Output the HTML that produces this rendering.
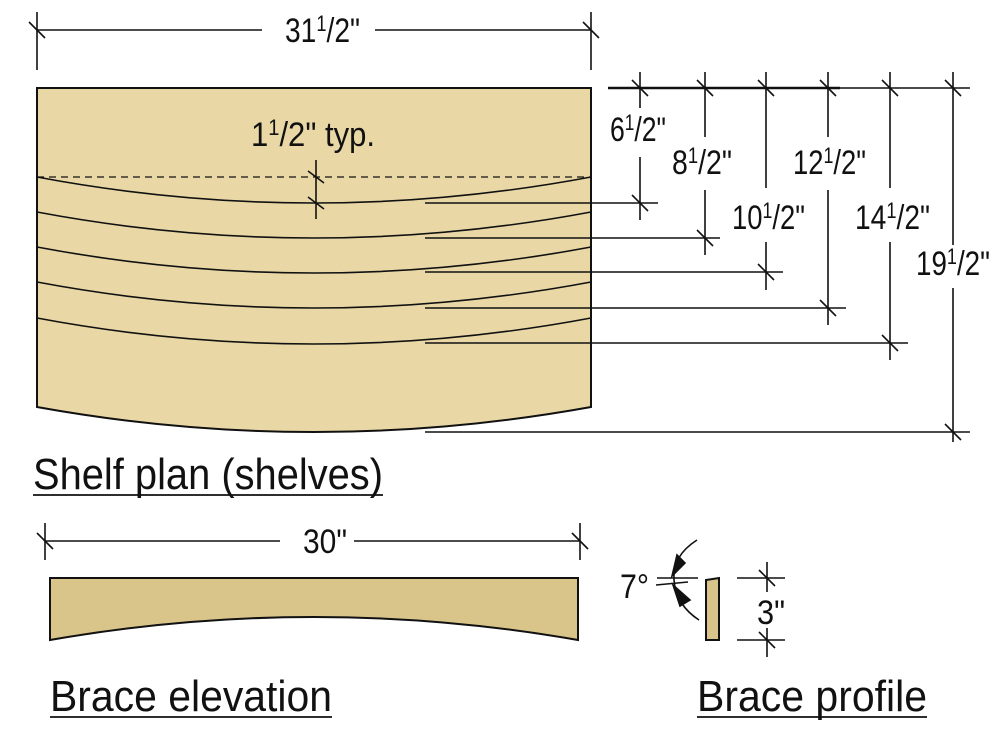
<!DOCTYPE html>
<html><head><meta charset="utf-8"><style>
html,body{margin:0;padding:0;background:#fff;}
svg{display:block;}
text{font-family:"Liberation Sans",sans-serif;fill:#111;}
</style></head><body>
<svg width="992" height="753" viewBox="0 0 992 753" xmlns="http://www.w3.org/2000/svg">
<g stroke="#111" stroke-width="1.6" fill="none">
<path d="M37,88 L591,88 L591,407 Q314,457 37,407 Z" fill="#e9d8a6" stroke-width="2"/>
<line x1="37" y1="177" x2="591" y2="177" stroke-dasharray="7,5" stroke-width="1.3"/>
<path d="M37,177 Q314,229 591,177"/>
<path d="M37,212 Q314,264 591,212"/>
<path d="M37,247 Q314,299 591,247"/>
<path d="M37,282 Q314,334 591,282"/>
<path d="M37,318 Q314,370 591,318"/>
<line x1="316" y1="160" x2="316" y2="219"/>
<line x1="308" y1="171" x2="324" y2="183"/>
<line x1="308" y1="197" x2="324" y2="209"/>
<line x1="37" y1="12" x2="37" y2="70"/>
<line x1="591" y1="12" x2="591" y2="70"/>
<line x1="37" y1="30" x2="262" y2="30"/>
<line x1="375" y1="30" x2="591" y2="30"/>
<line x1="29" y1="22" x2="45" y2="38"/>
<line x1="583" y1="22" x2="599" y2="38"/>
<line x1="608" y1="88" x2="840" y2="88" stroke-width="2.4"/>
<line x1="840" y1="88" x2="970" y2="88"/>
<line x1="425" y1="203" x2="658" y2="203"/>
<line x1="425" y1="238" x2="720" y2="238"/>
<line x1="425" y1="272" x2="783" y2="272"/>
<line x1="425" y1="308" x2="846" y2="308"/>
<line x1="425" y1="343" x2="908" y2="343"/>
<line x1="425" y1="432" x2="970" y2="432"/>
<path d="M640,72 V108 M640,157 V220"/>
<path d="M705,72 V137 M705,190 V255"/>
<path d="M766,72 V188 M766,242 V290"/>
<path d="M828,72 V137 M828,190 V325"/>
<path d="M890,72 V188 M890,242 V360"/>
<path d="M953,72 V245 M953,288 V442"/>
<g>
<line x1="632" y1="80" x2="648" y2="96"/><line x1="697" y1="80" x2="713" y2="96"/>
<line x1="758" y1="80" x2="774" y2="96"/><line x1="820" y1="80" x2="836" y2="96"/>
<line x1="882" y1="80" x2="898" y2="96"/><line x1="945" y1="80" x2="961" y2="96"/>
<line x1="632" y1="195" x2="648" y2="211"/><line x1="697" y1="230" x2="713" y2="246"/>
<line x1="758" y1="264" x2="774" y2="280"/><line x1="820" y1="300" x2="836" y2="316"/>
<line x1="882" y1="335" x2="898" y2="351"/><line x1="945" y1="424" x2="961" y2="440"/>
</g>
<path d="M50,578 L578,578 L578,640 Q314,594 50,640 Z" fill="#d9c58a" stroke-width="2"/>
<line x1="45" y1="523" x2="45" y2="560"/>
<line x1="580" y1="523" x2="580" y2="560"/>
<line x1="45" y1="541" x2="280" y2="541"/>
<line x1="354" y1="541" x2="580" y2="541"/>
<line x1="37" y1="533" x2="53" y2="549"/>
<line x1="572" y1="533" x2="588" y2="549"/>
<path d="M706,580 L719,578 L719,640 L706,640 Z" fill="#d9c58a" stroke-width="2"/>
<line x1="737" y1="578" x2="785" y2="578"/>
<line x1="737" y1="640" x2="785" y2="640"/>
<path d="M767,562 V592 M767,628 V657"/>
<line x1="759" y1="570" x2="775" y2="586"/>
<line x1="759" y1="632" x2="775" y2="648"/>
<line x1="657" y1="578" x2="698" y2="578"/>
<line x1="656" y1="585" x2="688" y2="582"/>
<path d="M697,540 Q672,556 674,580 Q676,605 699,620"/>
<path d="M672,576 L677,555 L685,563 Z" fill="#111"/>
<path d="M673,585 L690,600 L680,606 Z" fill="#111"/>
</g>
<g font-size="34" lengthAdjust="spacingAndGlyphs">
<text x="285" y="42" textLength="75" lengthAdjust="spacingAndGlyphs">31<tspan font-size="22" dy="-11">1</tspan><tspan dy="11">/2"</tspan></text>
<text x="251" y="146" textLength="124" lengthAdjust="spacingAndGlyphs">1<tspan font-size="22" dy="-11">1</tspan><tspan dy="11">/2" typ.</tspan></text>
<text x="610" y="141" textLength="56" lengthAdjust="spacingAndGlyphs">6<tspan font-size="22" dy="-11">1</tspan><tspan dy="11">/2"</tspan></text>
<text x="672" y="174" textLength="60" lengthAdjust="spacingAndGlyphs">8<tspan font-size="22" dy="-11">1</tspan><tspan dy="11">/2"</tspan></text>
<text x="732" y="229" textLength="73" lengthAdjust="spacingAndGlyphs">10<tspan font-size="22" dy="-11">1</tspan><tspan dy="11">/2"</tspan></text>
<text x="793" y="174" textLength="73" lengthAdjust="spacingAndGlyphs">12<tspan font-size="22" dy="-11">1</tspan><tspan dy="11">/2"</tspan></text>
<text x="855" y="229" textLength="75" lengthAdjust="spacingAndGlyphs">14<tspan font-size="22" dy="-11">1</tspan><tspan dy="11">/2"</tspan></text>
<text x="916" y="275" textLength="74" lengthAdjust="spacingAndGlyphs">19<tspan font-size="22" dy="-11">1</tspan><tspan dy="11">/2"</tspan></text>
<text x="303" y="553" textLength="44" lengthAdjust="spacingAndGlyphs">30"</text>
<text x="620" y="598" textLength="29" lengthAdjust="spacingAndGlyphs">7°</text>
<text x="757" y="624" textLength="28" lengthAdjust="spacingAndGlyphs">3"</text>
</g>
<g font-size="44">
<text x="33" y="489" textLength="350" lengthAdjust="spacingAndGlyphs">Shelf plan (shelves)</text>
<text x="50" y="711" textLength="282" lengthAdjust="spacingAndGlyphs">Brace elevation</text>
<text x="697" y="711" textLength="230" lengthAdjust="spacingAndGlyphs">Brace profile</text>
</g>
<g stroke="#111" stroke-width="1.8">
<line x1="33" y1="495" x2="383" y2="495"/>
<line x1="50" y1="717" x2="332" y2="717"/>
<line x1="697" y1="717" x2="927" y2="717"/>
</g>
</svg>
</body></html>
